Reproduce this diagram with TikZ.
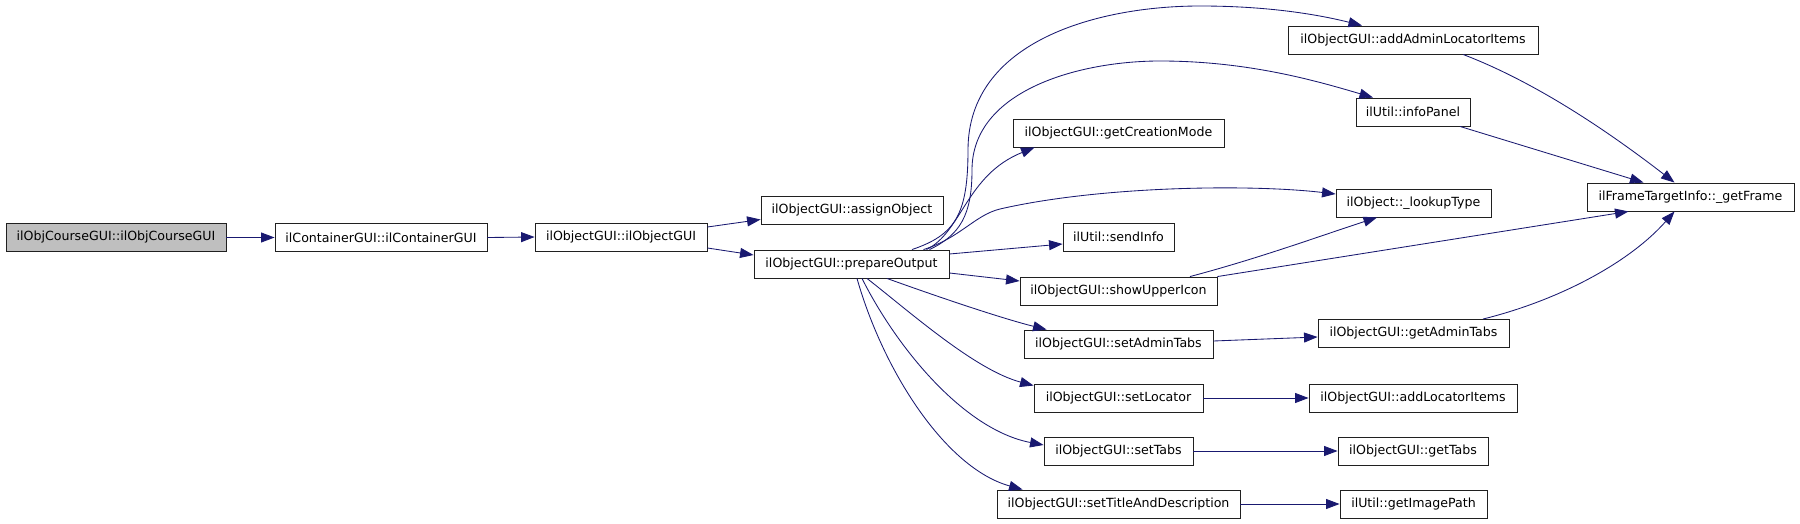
\documentclass[tikz,border=0pt]{standalone}
\usepackage{fontspec}
\newfontfamily\boxfont{DejaVu Sans}
\usetikzlibrary{arrows.meta,calc}
\definecolor{edgecol}{HTML}{191970}
\definecolor{rootfill}{HTML}{BFBFBF}
\definecolor{boxline}{HTML}{202020}
\newcommand\bxf{\boxfont\fontsize{12.6pt}{15pt}\selectfont}
\tikzset{
  box/.style={draw=boxline, line width=0.9pt, fill=white, minimum height=28pt, inner sep=0pt, font=\bxf, text=black},
  rootbox/.style={box, fill=rootfill},
  ed/.style={draw=edgecol, line width=0.85pt, -{Triangle[length=13.5pt,width=10pt]}}
}
\begin{document}
\begin{tikzpicture}[x=1pt,y=-1pt]
\useasboundingbox (0,0) rectangle (1800,524);
% nodes
\node[rootbox, minimum width=220pt] (A) at (116,237.5) {ilObjCourseGUI::ilObjCourseGUI};
\node[box, minimum width=212pt] (B) at (381,237.5) {ilContainerGUI::ilContainerGUI};
\node[box, minimum width=172pt] (C) at (621,237) {ilObjectGUI::ilObjectGUI};
\node[box, minimum width=182pt] (D) at (852,210.5) {ilObjectGUI::assignObject};
\node[box, minimum width=195pt] (E) at (851.5,264) {ilObjectGUI::prepareOutput};
\node[box, minimum width=250pt] (F) at (1413,40) {ilObjectGUI::addAdminLocatorItems};
\node[box, minimum width=114pt] (G) at (1413,112) {ilUtil::infoPanel};
\node[box, minimum width=211pt] (H) at (1118.5,133) {ilObjectGUI::getCreationMode};
\node[box, minimum width=155pt] (I) at (1413.5,203) {ilObject::\_lookupType};
\node[box, minimum width=207pt] (J) at (1690.5,197) {ilFrameTargetInfo::\_getFrame};
\node[box, minimum width=111pt] (K) at (1118.5,237) {ilUtil::sendInfo};
\node[box, minimum width=197pt] (L) at (1118.5,291) {ilObjectGUI::showUpperIcon};
\node[box, minimum width=189pt] (M) at (1118.5,344) {ilObjectGUI::setAdminTabs};
\node[box, minimum width=191pt] (N) at (1413.5,333.5) {ilObjectGUI::getAdminTabs};
\node[box, minimum width=169pt] (O) at (1118.5,398) {ilObjectGUI::setLocator};
\node[box, minimum width=208pt] (P) at (1413,398) {ilObjectGUI::addLocatorItems};
\node[box, minimum width=149pt] (Q) at (1118.5,451) {ilObjectGUI::setTabs};
\node[box, minimum width=150pt] (R) at (1413,451) {ilObjectGUI::getTabs};
\node[box, minimum width=243pt] (S) at (1118.5,504) {ilObjectGUI::setTitleAndDescription};
\node[box, minimum width=147pt] (T) at (1413.5,504) {ilUtil::getImagePath};
% edges
\draw[ed] (A.east) -- (B.west);
\draw[ed] (B.east) -- (C.west);
\draw[ed] ($(C.east)+(0,-10)$) -- ($(D.west)+(0,9)$);
\draw[ed] ($(C.east)+(0,11)$) -- ($(E.west)+(0,-9)$);
% prepareOutput fan-out (upwards)
\draw[ed] ($(E.north)+(60.5,0)$) .. controls (955,235) and (968,215) .. (968,150)
  .. controls (968,40) and (1100,6) .. (1200,6)
  .. controls (1270,6) and (1320,15) .. ($(F.north)+(-51,0)$);
\draw[ed] ($(E.north)+(78,0)$) .. controls (960,235) and (972,215) .. (972,170)
  .. controls (972,90) and (1080,61) .. (1160,61)
  .. controls (1250,61) and (1320,82) .. ($(G.north)+(-40,0)$);
\draw[ed] ($(E.north)+(75,0)$) .. controls (962,232) and (966,175) .. ($(H.south west)+(22,0)$);
\draw[ed] ($(E.north)+(72,0)$) .. controls (960,238) and (975,215) .. (1000,209)
  .. controls (1100,186) and (1250,184) .. ($(I.west)+(0,-9)$);
\draw[ed] ($(E.east)+(0,-10)$) -- ($(K.west)+(0,7)$);
\draw[ed] ($(E.east)+(0,9)$) -- ($(L.west)+(0,-10)$);
% prepareOutput fan-out (downwards)
\draw[ed] ($(E.south)+(35.5,0)$) .. controls (930,294) and (1000,318) .. ($(M.north west)+(23,0)$);
\draw[ed] ($(E.south)+(15.5,0)$) .. controls (910,312) and (975,370) .. ($(O.north west)+(0,2)$);
\draw[ed] ($(E.south)+(10.5,0)$) .. controls (898,350) and (965,430) .. ($(Q.west)+(0,-6)$);
\draw[ed] ($(E.south)+(5.5,0)$) .. controls (883,370) and (945,468) .. ($(S.north west)+(26,0)$);
% second level
\draw[ed] ($(L.north)+(71.5,0)$) .. controls (1260,258) and (1320,236) .. ($(I.south)+(-36.5,0)$);
\draw[ed] (L.north east) -- ($(J.south)+(-62,0)$);
\draw[ed] ($(M.east)+(0,-3)$) -- ($(N.west)+(0,3.5)$);
\draw[ed] (O.east) -- (P.west);
\draw[ed] (Q.east) -- (R.west);
\draw[ed] (S.east) -- (T.west);
% into _getFrame
\draw[ed] ($(F.south)+(50,0)$) .. controls (1530,80) and (1600,125) .. ($(J.north)+(-16,0)$);
\draw[ed] ($(G.south)+(47,0)$) -- ($(J.north)+(-47,0)$);
\draw[ed] ($(N.north)+(69.5,0)$) .. controls (1560,300) and (1630,262) .. ($(J.south)+(-16,0)$);
\end{tikzpicture}
\end{document}
